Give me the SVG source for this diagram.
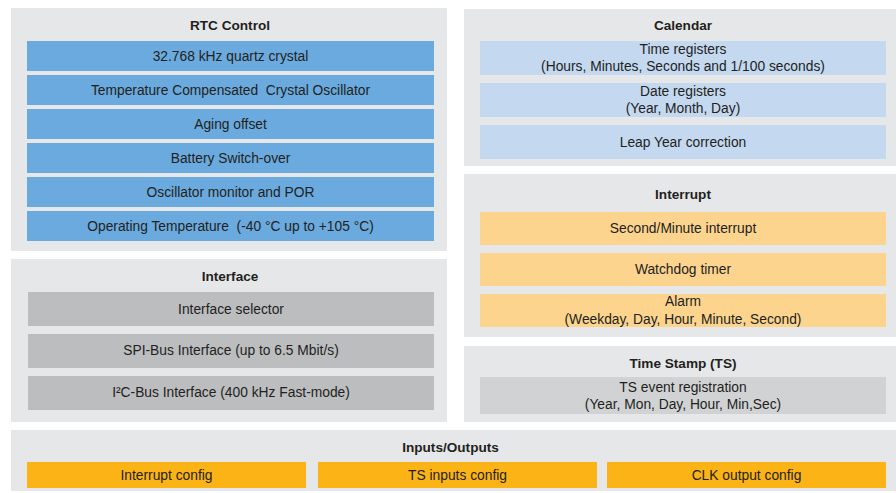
<svg xmlns="http://www.w3.org/2000/svg" width="896" height="493" viewBox="0 0 896 493">
<style>
.panel{fill:#e6e7e9}
.blue{fill:#6aaade}
.lblue{fill:#c4d8f0}
.lor{fill:#fdd48e}
.or{fill:#fcb316}
.gray{fill:#bcbdbf}
.lgray{fill:#d1d2d4}
text{font-family:"Liberation Sans",Arial,sans-serif;font-size:13.8px;fill:#231f20;text-anchor:middle}
.t{font-weight:bold;font-size:13.6px}
</style>
<rect width="896" height="493" fill="#ffffff"/>
<g id="rtc-control">
<rect class="panel" x="11" y="8" width="436" height="243"/>
<text class="t" x="230" y="30">RTC Control</text>
<rect class="blue" x="27" y="41" width="407" height="30"/>
<text x="230.5" y="60.7">32.768 kHz quartz crystal</text>
<rect class="blue" x="27" y="75" width="407" height="30"/>
<text x="230.5" y="94.7" xml:space="preserve">Temperature Compensated  Crystal Oscillator</text>
<rect class="blue" x="27" y="109" width="407" height="30"/>
<text x="230.5" y="128.7">Aging offset</text>
<rect class="blue" x="27" y="143" width="407" height="30"/>
<text x="230.5" y="162.7">Battery Switch-over</text>
<rect class="blue" x="27" y="177" width="407" height="30"/>
<text x="230.5" y="196.7">Oscillator monitor and POR</text>
<rect class="blue" x="27" y="211" width="407" height="30"/>
<text x="230.5" y="230.7" xml:space="preserve">Operating Temperature  (-40 °C up to +105 °C)</text>
</g>
<g id="interface">
<rect class="panel" x="11" y="259" width="436" height="163"/>
<text class="t" x="230" y="281">Interface</text>
<rect class="gray" x="28" y="292" width="406" height="34"/>
<text x="231" y="314">Interface selector</text>
<rect class="gray" x="28" y="334" width="406" height="34"/>
<text x="231" y="354.7">SPI-Bus Interface (up to 6.5 Mbit/s)</text>
<rect class="gray" x="28" y="376" width="406" height="34"/>
<text x="231" y="397.4">I²C-Bus Interface (400 kHz Fast-mode)</text>
</g>
<g id="calendar">
<rect class="panel" x="464" y="9" width="432" height="157"/>
<text class="t" x="683" y="30">Calendar</text>
<rect class="lblue" x="480" y="41" width="406" height="34"/>
<text x="683" y="54">Time registers</text>
<text x="683" y="71">(Hours, Minutes, Seconds and 1/100 seconds)</text>
<rect class="lblue" x="480" y="83" width="406" height="34"/>
<text x="683" y="95.7">Date registers</text>
<text x="683" y="113">(Year, Month, Day)</text>
<rect class="lblue" x="480" y="125" width="406" height="34"/>
<text x="683" y="147">Leap Year correction</text>
</g>
<g id="interrupt">
<rect class="panel" x="464" y="174" width="432" height="163"/>
<text class="t" x="683" y="199">Interrupt</text>
<rect class="lor" x="480" y="212" width="406" height="33"/>
<text x="683" y="233.4">Second/Minute interrupt</text>
<rect class="lor" x="480" y="253" width="406" height="33"/>
<text x="683" y="274">Watchdog timer</text>
<rect class="lor" x="480" y="294" width="406" height="33"/>
<text x="683" y="306.4">Alarm</text>
<text x="683" y="323.7">(Weekday, Day, Hour, Minute, Second)</text>
</g>
<g id="time-stamp">
<rect class="panel" x="464" y="346" width="432" height="76"/>
<text class="t" x="683" y="367.5">Time Stamp (TS)</text>
<rect class="lgray" x="480" y="377" width="406" height="37"/>
<text x="683" y="392">TS event registration</text>
<text x="683" y="408.7">(Year, Mon, Day, Hour, Min,Sec)</text>
</g>
<g id="inputs-outputs">
<rect class="panel" x="11" y="430" width="885" height="61"/>
<text class="t" x="450.5" y="452">Inputs/Outputs</text>
<rect class="or" x="27" y="462" width="279" height="26"/>
<text x="166.5" y="480">Interrupt config</text>
<rect class="or" x="318" y="462" width="279" height="26"/>
<text x="457.5" y="480">TS inputs config</text>
<rect class="or" x="607" y="462" width="279" height="26"/>
<text x="746.5" y="480">CLK output config</text>
</g>
<g id="connectors"></g>
</svg>
